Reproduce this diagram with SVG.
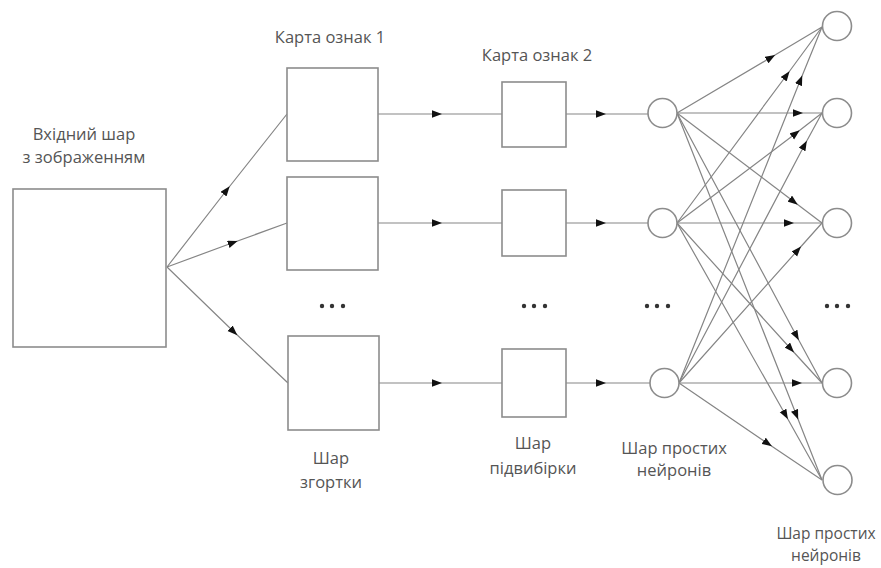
<svg xmlns="http://www.w3.org/2000/svg" width="881" height="568" viewBox="0 0 881 568">
<style>
.box{fill:#fff;stroke:#8c8c8c;stroke-width:1.6}
.nd{fill:#fff;stroke:#8c8c8c;stroke-width:1.6}
.ln{fill:none;stroke:#858585;stroke-width:1.2;marker-mid:url(#ah)}
.t{font-family:"Open Sans","DejaVu Sans",sans-serif;font-size:16.5px;fill:#555;text-anchor:middle}
.s{font-size:15.5px}
.dot{fill:#333}
</style>
<defs>
<marker id="ah" markerUnits="userSpaceOnUse" markerWidth="11" markerHeight="8" refX="4" refY="3.75" orient="auto">
<path d="M0,0 L10,3.75 L0,7.5 z" fill="#111"/>
</marker>
</defs>
<rect width="881" height="568" fill="#fff"/>
<g id="connectors">
<path class="ln" d="M167,267 L226,191 L287,114"/>
<path class="ln" d="M167,267 L232,243 L287,223"/>
<path class="ln" d="M167,267 L233,331 L288,383"/>
<path class="ln" d="M378,114 L436,114 L502,114"/>
<path class="ln" d="M378,223 L436,223 L502,223"/>
<path class="ln" d="M378,383 L436,383 L502,383"/>
<path class="ln" d="M566,114 L600,114 L648,114"/>
<path class="ln" d="M566,223 L600,223 L648,223"/>
<path class="ln" d="M566,383 L600,383 L650,383"/>
<path class="ln" d="M677,113 L770,58 L822,27"/>
<path class="ln" d="M677,113 L797,113 L822,113"/>
<path class="ln" d="M677,113 L793,201 L822,223"/>
<path class="ln" d="M677,113 L796,335 L822,383"/>
<path class="ln" d="M677,113 L796,414 L822,480"/>
<path class="ln" d="M677,223 L786,76 L822,27"/>
<path class="ln" d="M677,223 L795,134 L822,113"/>
<path class="ln" d="M677,223 L788,223 L822,223"/>
<path class="ln" d="M677,223 L790,348 L822,383"/>
<path class="ln" d="M677,223 L785,414 L822,480"/>
<path class="ln" d="M679,383 L800,81 L822,27"/>
<path class="ln" d="M679,383 L804,146 L822,113"/>
<path class="ln" d="M679,383 L797,251 L822,223"/>
<path class="ln" d="M679,383 L796,383 L822,383"/>
<path class="ln" d="M679,383 L767,443 L822,480"/>
</g>
<g id="input"><rect class="box" x="13" y="189" width="153" height="158"/>
<text class="t" x="84" y="140">Вхідний шар</text><text class="t" x="84" y="163">з зображенням</text></g>
<g id="conv1"><rect class="box" x="287" y="68" width="91" height="93"/><text class="t" x="330" y="43">Карта ознак 1</text></g>
<g id="conv2"><rect class="box" x="287" y="177" width="91" height="93"/></g>
<g id="conv3"><rect class="box" x="288" y="336" width="91" height="94"/>
<text class="t" x="331" y="464">Шар</text><text class="t" x="331" y="488">згортки</text></g>
<g id="pool1"><rect class="box" x="502" y="82" width="64" height="65"/><text class="t" x="537" y="61">Карта ознак 2</text></g>
<g id="pool2"><rect class="box" x="502" y="190" width="64" height="66"/></g>
<g id="pool3"><rect class="box" x="502" y="349" width="64" height="68"/>
<text class="t" x="533" y="449">Шар</text><text class="t" x="533" y="474">підвибірки</text></g>
<g id="n1"><circle class="nd" cx="662.5" cy="113" r="14.5"/></g>
<g id="n2"><circle class="nd" cx="662.5" cy="223" r="14.5"/></g>
<g id="n3"><circle class="nd" cx="664.5" cy="383" r="14.5"/>
<text class="t" x="674" y="454">Шар простих</text><text class="t" x="674" y="476">нейронів</text></g>
<g id="o1"><circle class="nd" cx="837" cy="26" r="14.5"/></g>
<g id="o2"><circle class="nd" cx="837" cy="113" r="14.5"/></g>
<g id="o3"><circle class="nd" cx="837" cy="223" r="14.5"/></g>
<g id="o4"><circle class="nd" cx="837" cy="383" r="14.5"/></g>
<g id="o5"><circle class="nd" cx="837.5" cy="480" r="14.5"/>
<text class="t s" x="826" y="539">Шар простих</text><text class="t s" x="826" y="561">нейронів</text></g>
<g id="dots">
<circle class="dot" cx="322" cy="306" r="2.2"/><circle class="dot" cx="332" cy="306" r="2.2"/><circle class="dot" cx="343" cy="306" r="2.2"/>
<circle class="dot" cx="524" cy="306" r="2.2"/><circle class="dot" cx="534" cy="306" r="2.2"/><circle class="dot" cx="545" cy="306" r="2.2"/>
<circle class="dot" cx="647" cy="306" r="2.2"/><circle class="dot" cx="657" cy="306" r="2.2"/><circle class="dot" cx="668" cy="306" r="2.2"/>
<circle class="dot" cx="827" cy="306" r="2.2"/><circle class="dot" cx="837" cy="306" r="2.2"/><circle class="dot" cx="848" cy="306" r="2.2"/>
</g>
</svg>
